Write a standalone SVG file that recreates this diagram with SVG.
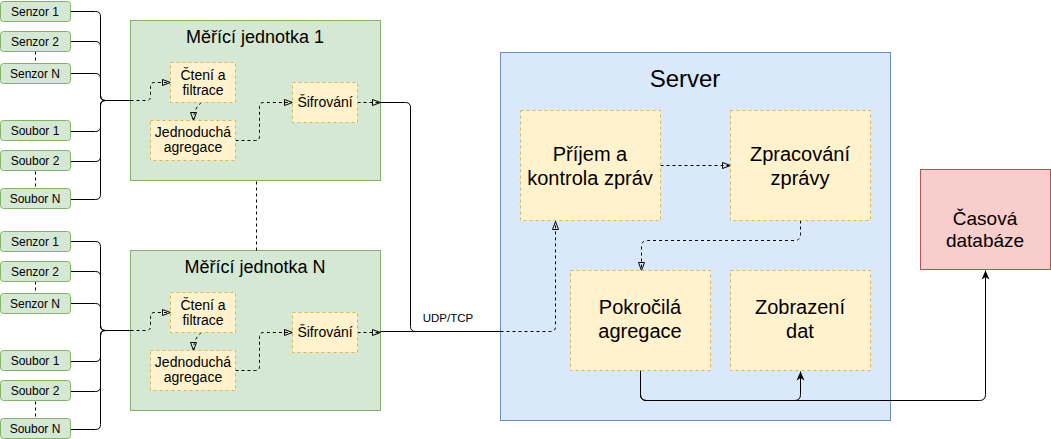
<svg xmlns="http://www.w3.org/2000/svg" width="1051" height="439" viewBox="0 0 1051 439">
<style>
text{font-family:"Liberation Sans",Arial,sans-serif;fill:#000;text-anchor:middle}
.src{fill:#d5e8d4;stroke:#82b366;stroke-width:1}
.unit{fill:#d5e8d4;stroke:#82b366;stroke-width:1}
.proc{fill:#fff2cc;stroke:#d6b656;stroke-width:1;stroke-dasharray:3 3}
.srv{fill:#dae8fc;stroke:#6c8ebf;stroke-width:1}
.db{fill:#f8cecc;stroke:#b85450;stroke-width:1}
.s12{font-size:12px}
.s14{font-size:14px}
.s18{font-size:18px}
.s20{font-size:20px}
.s24{font-size:24px}
.ln{fill:none;stroke:#000;stroke-width:1}
.dl{fill:none;stroke:#000;stroke-width:1;stroke-dasharray:3 3}
</style>
<defs>
<marker id="open" viewBox="0 0 10 8" refX="9" refY="4" markerWidth="10" markerHeight="8" markerUnits="userSpaceOnUse" orient="auto">
<path d="M1,1 L9,4 L1,7 Z" fill="none" stroke="#000" stroke-width="1"/>
</marker>
<marker id="solid" viewBox="0 0 10 10" refX="9" refY="5" markerWidth="10" markerHeight="10" markerUnits="userSpaceOnUse" orient="auto">
<path d="M0,1 L9,5 L0,9 L2.5,5 Z" fill="#000"/>
</marker>
</defs>

<g id="server">
<rect class="srv" x="500.5" y="52.5" width="390" height="368"/>
<text class="s24" x="685" y="87">Server</text>
</g>

<g id="unit1">
<rect class="unit" x="130.5" y="20.5" width="250" height="160"/>
<text class="s18" x="255" y="43">Měřící jednotka 1</text>
</g>
<g id="unitN">
<rect class="unit" x="130.5" y="250.5" width="250" height="160"/>
<text class="s18" x="255" y="273">Měřící jednotka N</text>
</g>

<g id="connectors" transform="translate(0.5,0.5)">
<path class="ln" d="M70,11 H95 Q100,11 100,16 V95 Q100,100 105,100"/>
<path class="ln" d="M70,41 H95 Q100,41 100,46 V95 Q100,100 105,100"/>
<path class="ln" d="M70,73 H95 Q100,73 100,78 V95 Q100,100 105,100"/>
<path class="ln" d="M70,131 H95 Q100,131 100,126 V105 Q100,100 105,100"/>
<path class="ln" d="M70,161 H95 Q100,161 100,156 V105 Q100,100 105,100"/>
<path class="ln" d="M70,199 H95 Q100,199 100,194 V105 Q100,100 105,100"/>
<path class="ln" d="M105,100 H130"/>
<path class="dl" d="M130,100 H146 Q150,100 150,96 V86 Q150,82 154,82 H170" marker-end="url(#open)"/>
<path class="dl" d="M201,102 Q193,108 193,120" marker-end="url(#open)"/>
<path class="dl" d="M235,140 H255 Q259,140 259,136 V106 Q259,102 263,102 H292" marker-end="url(#open)"/>
<path class="dl" d="M357,102 H380" marker-end="url(#open)"/>
<path class="dl" d="M35,51 V63"/>
<path class="dl" d="M35,171 V189"/>
<path class="ln" d="M70,241 H95 Q100,241 100,246 V325 Q100,330 105,330"/>
<path class="ln" d="M70,271 H95 Q100,271 100,276 V325 Q100,330 105,330"/>
<path class="ln" d="M70,303 H95 Q100,303 100,308 V325 Q100,330 105,330"/>
<path class="ln" d="M70,361 H95 Q100,361 100,356 V335 Q100,330 105,330"/>
<path class="ln" d="M70,391 H95 Q100,391 100,386 V335 Q100,330 105,330"/>
<path class="ln" d="M70,429 H95 Q100,429 100,424 V335 Q100,330 105,330"/>
<path class="ln" d="M105,330 H130"/>
<path class="dl" d="M130,330 H146 Q150,330 150,326 V316 Q150,312 154,312 H170" marker-end="url(#open)"/>
<path class="dl" d="M201,332 Q193,338 193,350" marker-end="url(#open)"/>
<path class="dl" d="M235,370 H255 Q259,370 259,366 V336 Q259,332 263,332 H292" marker-end="url(#open)"/>
<path class="dl" d="M357,332 H380" marker-end="url(#open)"/>
<path class="dl" d="M35,281 V293"/>
<path class="dl" d="M35,401 V419"/>
<path class="dl" d="M256,181 V250"/>
<path class="ln" d="M380,102 H405 Q410,102 410,107 V326 Q410,331 415,331 H500"/>
<path class="ln" d="M380,331 H500"/>
<path class="dl" d="M500,331 H550 Q555,331 555,326 V221" marker-end="url(#open)"/>
<path class="dl" d="M660,165 H730" marker-end="url(#open)"/>
<path class="dl" d="M800,220 V234 Q800,240 794,240 H647 Q641,240 641,246 V270" marker-end="url(#open)"/>
<path class="ln" d="M640,370 V394 Q640,400 646,400 H979 Q985,400 985,394 V270" marker-end="url(#solid)"/>
<path class="ln" d="M640,370 V394 Q640,400 646,400 H794 Q800,400 800,394 V371" marker-end="url(#solid)"/>
</g>
<text class="s12" x="448" y="322" style="font-size:11.5px">UDP/TCP</text>

<g id="senzor1a"><rect class="src" x="0.5" y="1.5" width="70" height="20" rx="3"/><text class="s12" x="35" y="16">Senzor 1</text></g>
<g id="senzor2a"><rect class="src" x="0.5" y="31.5" width="70" height="20" rx="3"/><text class="s12" x="35" y="46">Senzor 2</text></g>
<g id="senzorNa"><rect class="src" x="0.5" y="63.5" width="70" height="20" rx="3"/><text class="s12" x="35" y="78">Senzor N</text></g>
<g id="soubor1a"><rect class="src" x="0.5" y="120.5" width="70" height="20" rx="3"/><text class="s12" x="35" y="135">Soubor 1</text></g>
<g id="soubor2a"><rect class="src" x="0.5" y="150.5" width="70" height="20" rx="3"/><text class="s12" x="35" y="165">Soubor 2</text></g>
<g id="souborNa"><rect class="src" x="0.5" y="188.5" width="70" height="20" rx="3"/><text class="s12" x="35" y="203">Soubor N</text></g>

<g id="senzor1b"><rect class="src" x="0.5" y="231.5" width="70" height="20" rx="3"/><text class="s12" x="35" y="246">Senzor 1</text></g>
<g id="senzor2b"><rect class="src" x="0.5" y="261.5" width="70" height="20" rx="3"/><text class="s12" x="35" y="276">Senzor 2</text></g>
<g id="senzorNb"><rect class="src" x="0.5" y="293.5" width="70" height="20" rx="3"/><text class="s12" x="35" y="308">Senzor N</text></g>
<g id="soubor1b"><rect class="src" x="0.5" y="350.5" width="70" height="20" rx="3"/><text class="s12" x="35" y="365">Soubor 1</text></g>
<g id="soubor2b"><rect class="src" x="0.5" y="380.5" width="70" height="20" rx="3"/><text class="s12" x="35" y="395">Soubor 2</text></g>
<g id="souborNb"><rect class="src" x="0.5" y="418.5" width="70" height="20" rx="3"/><text class="s12" x="35" y="433">Soubor N</text></g>

<g id="cteni1"><rect class="proc" x="170.5" y="62.5" width="65" height="40"/><text class="s14" x="203" y="80">Čtení a</text><text class="s14" x="203" y="95">filtrace</text></g>
<g id="agreg1"><rect class="proc" x="150.5" y="120.5" width="85" height="40"/><text class="s14" x="193" y="137">Jednoduchá</text><text class="s14" x="193" y="152">agregace</text></g>
<g id="sifr1"><rect class="proc" x="292.5" y="82.5" width="65" height="40"/><text class="s14" x="325" y="107">Šifrování</text></g>

<g id="cteniN"><rect class="proc" x="170.5" y="292.5" width="65" height="40"/><text class="s14" x="203" y="310">Čtení a</text><text class="s14" x="203" y="325">filtrace</text></g>
<g id="agregN"><rect class="proc" x="150.5" y="350.5" width="85" height="40"/><text class="s14" x="193" y="367">Jednoduchá</text><text class="s14" x="193" y="382">agregace</text></g>
<g id="sifrN"><rect class="proc" x="292.5" y="312.5" width="65" height="40"/><text class="s14" x="325" y="337">Šifrování</text></g>

<g id="prijem"><rect class="proc" x="520.5" y="110.5" width="140" height="110"/><text class="s20" x="590" y="161">Příjem a</text><text class="s20" x="590" y="185">kontrola zpráv</text></g>
<g id="zpracovani"><rect class="proc" x="730.5" y="110.5" width="140" height="110"/><text class="s20" x="800" y="161">Zpracování</text><text class="s20" x="800" y="185">zprávy</text></g>
<g id="pokrocila"><rect class="proc" x="570.5" y="270.5" width="140" height="100"/><text class="s20" x="640" y="314">Pokročilá</text><text class="s20" x="640" y="338">agregace</text></g>
<g id="zobrazeni"><rect class="proc" x="730.5" y="270.5" width="140" height="100"/><text class="s20" x="800" y="314">Zobrazení</text><text class="s20" x="800" y="338">dat</text></g>

<g id="databaze"><rect class="db" x="920.5" y="169.5" width="130" height="100"/><text x="985" y="225" style="font-size:19px">Časová</text><text x="985" y="247" style="font-size:19px">databáze</text></g>
</svg>
